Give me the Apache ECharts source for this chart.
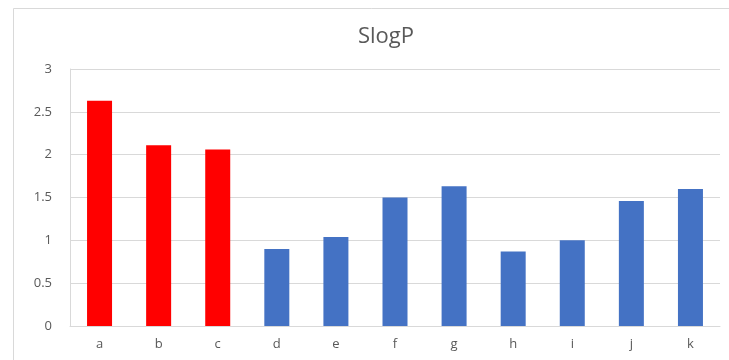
<!DOCTYPE html>
<html>
<head>
<meta charset="utf-8">
<script src="https://cdn.jsdelivr.net/npm/echarts@6/dist/echarts.min.js"></script>
<style>
  html, body { margin: 0; padding: 0; background: #fff; }
  #main { width: 729px; height: 360px; }
</style>
</head>
<body>
<div id="main"></div>
<script>
  // categories and SlogP values
  var categories = ['a', 'b', 'c', 'd', 'e', 'f', 'g', 'h', 'i', 'j', 'k'];
  var slogp = [2.63, 2.11, 2.06, 0.90, 1.04, 1.50, 1.63, 0.87, 1.00, 1.46, 1.60];
  var highlighted = ['a', 'b', 'c'];
  var yTicks = [0, 0.5, 1, 1.5, 2, 2.5, 3];

  var chart = echarts.init(document.getElementById('main'));
  var font = '"Open Sans", "Noto Sans", sans-serif';

  var option = {
    animation: false,
    backgroundColor: '#fff',
    textStyle: { fontFamily: font },
    title: {
      text: 'SlogP',
      left: 381,
      top: 21,
      textAlign: 'center',
      textStyle: { fontSize: 22, fontWeight: 'normal', color: '#595959', fontFamily: font }
    },
    // outer chart border, cut off at right and bottom
    graphic: [{
      type: 'rect',
      shape: { x: 13.5, y: 8.5, width: 800, height: 400 },
      style: { fill: 'none', stroke: '#d9d9d9', lineWidth: 1 },
      silent: true
    }],
    grid: { left: 70, right: 9, top: 69, bottom: 34 },
    xAxis: {
      type: 'category',
      data: categories,
      axisLine: { lineStyle: { color: '#d9d9d9' } },
      axisTick: { show: false },
      axisLabel: { color: '#595959', fontSize: 13, margin: 12 }
    },
    yAxis: {
      type: 'value',
      min: yTicks[0],
      max: yTicks[yTicks.length - 1],
      interval: 0.5,
      axisLine: { show: true, lineStyle: { color: '#d9d9d9' } },
      axisTick: { show: false },
      axisLabel: { color: '#595959', fontSize: 13, margin: 18 },
      splitLine: { lineStyle: { color: '#d9d9d9' } }
    },
    series: [{
      type: 'bar',
      barWidth: 25,
      data: slogp.map(function (v, i) {
        return {
          value: v,
          itemStyle: { color: highlighted.indexOf(categories[i]) >= 0 ? '#ff0000' : '#4472c4' }
        };
      })
    }]
  };

  chart.setOption(option);
</script>
</body>
</html>
